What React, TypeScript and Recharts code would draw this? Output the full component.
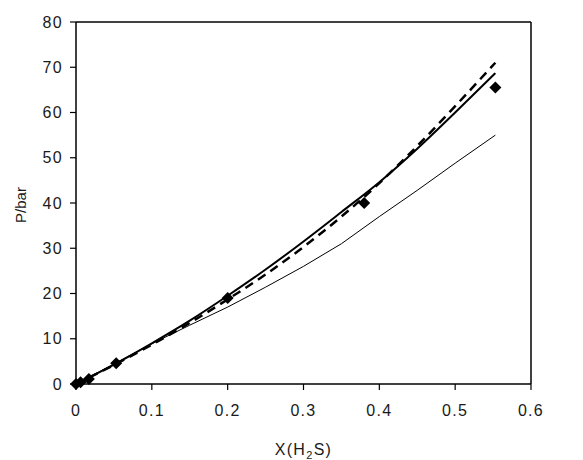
import React from "react";
import {
  ComposedChart, Line, Scatter, XAxis, YAxis, ReferenceLine, Label,
} from "recharts";

const FONT = "'Liberation Sans', Arial, sans-serif";

// model curves
const modelX = [0, 0.05, 0.1, 0.15, 0.2, 0.25, 0.3, 0.35, 0.4, 0.45, 0.5, 0.553];
const thickP = [0, 4.3, 9.0, 14.0, 19.5, 25.3, 31.5, 38.0, 44.6, 52.0, 60.0, 68.7];
const dashedP = [0, 4.2, 8.7, 13.5, 18.7, 24.2, 30.3, 37.0, 44.4, 52.6, 61.4, 71.0];
const thinP = [0, 4.4, 8.9, 13.0, 17.0, 21.4, 26.0, 31.0, 37.0, 42.8, 48.8, 55.0];

// experimental points
const expX = [0, 0.006, 0.017, 0.053, 0.2, 0.38, 0.553];
const expP = [0, 0.4, 1.1, 4.6, 19.0, 40.0, 65.5];

const xTicks = [0, 0.1, 0.2, 0.3, 0.4, 0.5, 0.6];
const yTicks = [0, 10, 20, 30, 40, 50, 60, 70, 80];

const toRows = (xs: number[], ys: number[]) => xs.map((x, i) => ({ x, p: ys[i] }));

const Diamond = (props: any) => {
  const { cx, cy } = props;
  const r = 6;
  return (
    <polygon
      points={`${cx},${cy - r} ${cx + r},${cy} ${cx},${cy + r} ${cx - r},${cy}`}
      fill="#000"
    />
  );
};

export default function App() {
  const tick = { fontSize: 16, fill: "#1a1a1a", fontFamily: FONT, letterSpacing: 1.3 };
  return (
    <div style={{ position: "absolute", left: 0, top: 0, background: "#fff" }}>
      <ComposedChart
        width={583}
        height={460}
        margin={{ top: 22, right: 52, bottom: 16, left: 36 }}
      >
        <XAxis
          dataKey="x"
          type="number"
          domain={[0, 0.6]}
          ticks={xTicks}
          tick={tick}
          tickSize={6}
          tickMargin={15}
          height={60}
          axisLine={{ stroke: "#000", strokeWidth: 1.5 }}
          tickLine={{ stroke: "#000", strokeWidth: 1.2 }}
          allowDuplicatedCategory={false}
        >
          <Label
            content={(p: any) => {
              const vb = p.viewBox;
              return (
                <text
                  x={vb.x + vb.width / 2}
                  y={vb.y + 71}
                  textAnchor="middle"
                  fontSize={16}
                  letterSpacing={1.3}
                  fontFamily={FONT}
                  fill="#1a1a1a"
                >
                  X(H<tspan fontSize={11} dy={4}>2</tspan>
                  <tspan dy={-4}>S)</tspan>
                </text>
              );
            }}
          />
        </XAxis>
        <YAxis
          type="number"
          domain={[0, 80]}
          ticks={yTicks}
          tick={tick}
          tickSize={6}
          tickMargin={7}
          width={40}
          axisLine={{ stroke: "#000", strokeWidth: 1.5 }}
          tickLine={{ stroke: "#000", strokeWidth: 1.2 }}
        >
          <Label
            content={(p: any) => {
              const vb = p.viewBox;
              const cx = vb.x - 14;
              const cy = vb.y + vb.height / 2 + 2;
              return (
                <text
                  x={cx}
                  y={cy}
                  transform={`rotate(-90 ${cx} ${cy})`}
                  textAnchor="middle"
                  dominantBaseline="middle"
                  fontSize={15}
                  fontFamily={FONT}
                  fill="#1a1a1a"
                >
                  P/bar
                </text>
              );
            }}
          />
        </YAxis>
        <ReferenceLine y={80} stroke="#000" strokeWidth={1.5} />
        <ReferenceLine x={0.6} stroke="#000" strokeWidth={1.5} />
        <Line
          data={toRows(modelX, thinP)}
          dataKey="p"
          stroke="#000"
          strokeWidth={1}
          dot={false}
          type="linear"
          isAnimationActive={false}
        />
        <Line
          data={toRows(modelX, thickP)}
          dataKey="p"
          stroke="#000"
          strokeWidth={2}
          dot={false}
          type="monotone"
          isAnimationActive={false}
        />
        <Line
          data={toRows(modelX, dashedP)}
          dataKey="p"
          stroke="#000"
          strokeWidth={2.5}
          strokeDasharray="9 6"
          dot={false}
          type="monotone"
          isAnimationActive={false}
        />
        <Scatter
          data={toRows(expX, expP)}
          dataKey="p"
          shape={<Diamond />}
          isAnimationActive={false}
        />
      </ComposedChart>
    </div>
  );
}
